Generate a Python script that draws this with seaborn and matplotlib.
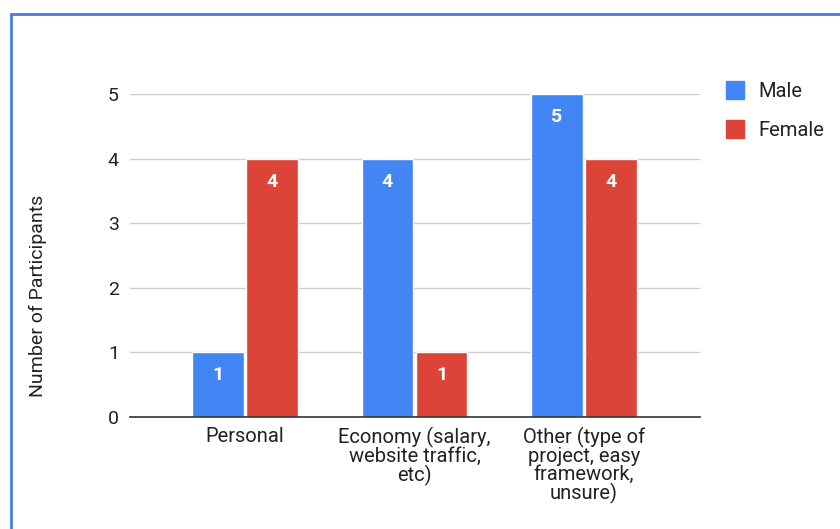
import matplotlib
matplotlib.use("Agg")
import matplotlib.pyplot as plt
from matplotlib.lines import Line2D
import seaborn as sns
import pandas as pd

categories = ["Personal", "Economy (salary,\nwebsite traffic,\netc)",
              "Other (type of\nproject, easy\nframework,\nunsure)"]
male = [1, 4, 5]
female = [4, 1, 4]
series_names = ["Male", "Female"]
colors = ["#4285f4", "#db4437"]

df = pd.DataFrame({
    "Reason": categories * 2,
    "Gender": [series_names[0]] * 3 + [series_names[1]] * 3,
    "Count": male + female,
})

sns.set_theme(style="white")
plt.rcParams["font.family"] = ["Roboto", "DejaVu Sans"]

fig = plt.figure(figsize=(8.4, 5.29), dpi=100)
ax = fig.add_axes([130 / 840, 112 / 529, 570 / 840, 323 / 529])

sns.barplot(data=df, x="Reason", y="Count", hue="Gender", palette=colors,
            width=0.64, gap=0.05, ax=ax, legend=False, saturation=1)

ax.set_xlim(-0.678, 2.684)
ax.set_ylim(0, 5)
ax.set_yticks(range(0, 6))
ax.grid(axis="y", color="#cccccc", linewidth=1)
ax.set_axisbelow(True)
for side in ["top", "right", "left"]:
    ax.spines[side].set_visible(False)
ax.spines["bottom"].set_color("#333333")
ax.spines["bottom"].set_linewidth(1.2)
ax.tick_params(axis="both", length=0, labelsize=14, colors="#222222")
ax.tick_params(axis="x", pad=7, labelsize=14.5)
ax.tick_params(axis="y", pad=8)
for lbl in ax.get_xticklabels():
    lbl.set_linespacing(0.93)
ax.set_xlabel("")
ax.set_ylabel("Number of Participants", fontsize=14, color="#222222")
ax.yaxis.set_label_coords(-0.146, 0.375)

for container in ax.containers:
    ax.bar_label(container, labels=[f"{int(v)}" for v in container.datavalues],
                 label_type="edge", padding=-23, color="white",
                 fontsize=14, fontweight="bold")

handles = [Line2D([], [], marker="s", linestyle="", markersize=13,
                  markerfacecolor=c, markeredgecolor=c) for c in colors]
fig.legend(handles, series_names, loc="upper left",
           bbox_to_anchor=(697 / 840, 1 - 64 / 529), frameon=False,
           fontsize=14.5, labelspacing=1.0, handletextpad=0.15,
           labelcolor="#222222")

# frame lines around the chart panel
border = "#4d7bd4"
fig.add_artist(Line2D([11 / 840, 1], [1 - 13.5 / 529, 1 - 13.5 / 529],
                      transform=fig.transFigure, color=border, linewidth=2))
fig.add_artist(Line2D([11 / 840, 11 / 840], [0, 1 - 13.5 / 529],
                      transform=fig.transFigure, color=border, linewidth=2))

fig.savefig("out.png", dpi=100, facecolor="white")
